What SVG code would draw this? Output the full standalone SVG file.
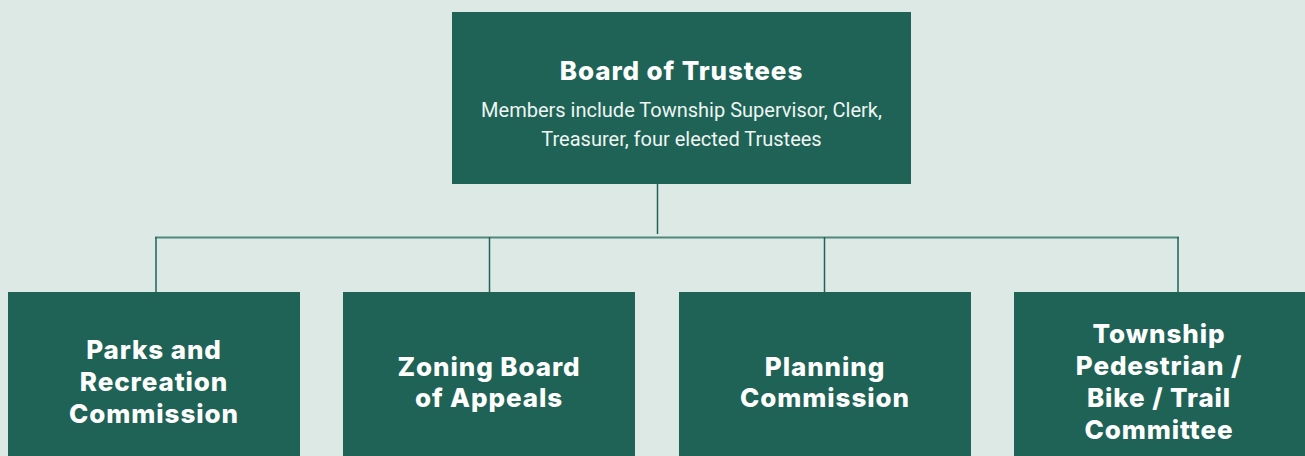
<svg xmlns="http://www.w3.org/2000/svg" width="1305" height="456" viewBox="0 0 1305 456">
<style>
.box{fill:#1e6356}
.t{font-family:Inter,"Open Sans","DejaVu Sans",sans-serif;font-weight:800;fill:#ffffff;text-anchor:middle;letter-spacing:0.9px}
.h{font-size:26px}
.s{font-family:Roboto,"Open Sans",sans-serif;font-size:20px;fill:#eef5f2;text-anchor:middle}
.ln{stroke:#1e6356;stroke-width:1.5;fill:none}
.hl{stroke:#4f8a7d;stroke-width:2;fill:none}
</style>
<rect width="1305" height="456" fill="#dde9e5"/>
<g id="connectors">
<line class="ln" x1="657.5" y1="184" x2="657.5" y2="234"/>
<line class="hl" x1="155" y1="237.5" x2="1179" y2="237.5"/>
<line class="ln" x1="156" y1="237" x2="156" y2="292"/>
<line class="ln" x1="489.5" y1="237" x2="489.5" y2="292"/>
<line class="ln" x1="824.5" y1="237" x2="824.5" y2="292"/>
<line class="ln" x1="1178" y1="237" x2="1178" y2="292"/>
</g>
<g id="board">
<rect class="box" x="452" y="12" width="459" height="172"/>
<text class="t h" x="681.5" y="80">Board of Trustees</text>
<text class="s" x="681.5" y="117">Members include Township Supervisor, Clerk,</text>
<text class="s" x="681.5" y="146">Treasurer, four elected Trustees</text>
</g>
<g id="parks">
<rect class="box" x="8" y="292" width="292" height="170"/>
<text class="t h" x="154" y="359">Parks and</text>
<text class="t h" x="154" y="391">Recreation</text>
<text class="t h" x="154" y="423">Commission</text>
</g>
<g id="zoning">
<rect class="box" x="343" y="292" width="292" height="170"/>
<text class="t h" x="489" y="376">Zoning Board</text>
<text class="t h" x="489" y="407">of Appeals</text>
</g>
<g id="planning">
<rect class="box" x="679" y="292" width="292" height="170"/>
<text class="t h" x="825" y="376">Planning</text>
<text class="t h" x="825" y="407">Commission</text>
</g>
<g id="trail">
<rect class="box" x="1014" y="292" width="300" height="170"/>
<text class="t h" x="1159" y="343">Township</text>
<text class="t h" x="1159" y="375">Pedestrian /</text>
<text class="t h" x="1159" y="407">Bike / Trail</text>
<text class="t h" x="1159" y="439">Committee</text>
</g>
</svg>
